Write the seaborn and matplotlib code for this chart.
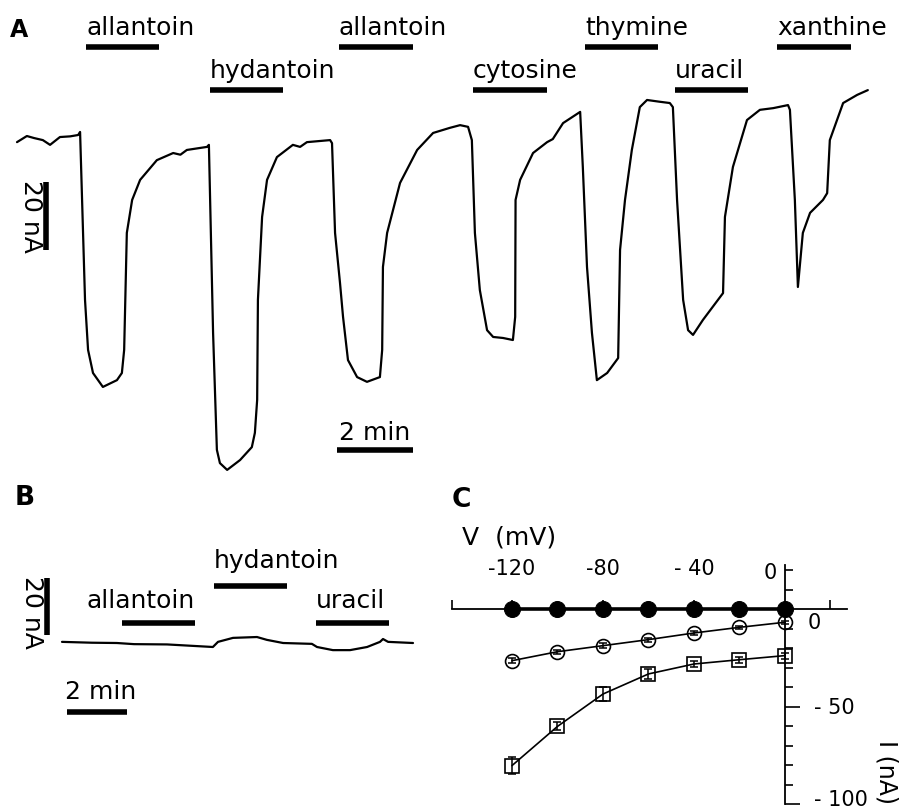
import numpy as np
import pandas as pd
import matplotlib
matplotlib.use("Agg")
import matplotlib.pyplot as plt
import matplotlib.transforms as mtransforms
from matplotlib.ticker import FixedLocator
import seaborn as sns

sns.set_theme(style="white")
plt.rcParams['font.family'] = ['DejaVu Sans']
plt.rcParams['text.color'] = 'black'
plt.rcParams['axes.labelcolor'] = 'black'
plt.rcParams['xtick.color'] = 'black'
plt.rcParams['ytick.color'] = 'black'

# ---------------------------------------------------------------- data
# Panel A: oocyte current trace (time in min, current in nA)
a_time = [0.00, 0.26, 0.45, 0.68, 0.87, 1.13, 1.40, 1.61, 1.66,
          1.79, 1.87, 2.00, 2.26, 2.63, 2.76, 2.82, 2.89, 3.03, 3.24, 3.68, 4.11, 4.30, 4.47, 5.00, 5.05,
          5.16, 5.26, 5.34, 5.53, 5.87, 6.18, 6.26, 6.32, 6.34, 6.45, 6.58, 6.84, 7.26, 7.45, 7.63, 8.24, 8.29,
          8.37, 8.50, 8.58, 8.71, 8.95, 9.21, 9.55, 9.61, 9.63, 9.74, 10.08, 10.53, 10.95, 11.39, 11.66, 11.87,
          11.97, 12.05, 12.18, 12.37, 12.53, 12.79, 13.05, 13.11, 13.12, 13.24, 13.58, 13.95, 14.10, 14.37, 14.82,
          14.89, 15.00, 15.13, 15.26, 15.53, 15.82, 15.87, 16.00, 16.18, 16.39, 16.58, 16.90, 17.18, 17.26,
          17.37, 17.53, 17.66, 17.79, 18.05, 18.58, 18.63, 18.84, 19.21, 19.55, 19.90, 20.29, 20.34,
          20.47, 20.55, 20.68, 20.87, 21.21, 21.32, 21.39, 21.74, 22.11, 22.39]
a_current = [-2.1, -0.3, -0.9, -1.5, -2.9, -0.6, -0.4, 0.0, 0.9,
             -48.5, -63.2, -70.0, -74.1, -72.1, -70.0, -63.2, -28.8, -19.1, -13.2, -7.4, -5.3, -5.8, -4.4, -3.5, -2.9,
             -58.2, -92.6, -96.5, -98.5, -95.6, -91.8, -87.6, -77.9, -48.5, -24.1, -13.2, -6.5, -2.9, -3.5, -2.1, -1.5, -2.4,
             -28.8, -43.5, -53.5, -66.2, -71.2, -72.6, -71.2, -63.2, -38.8, -28.8, -14.1, -4.4, 0.6, 2.1, 2.9, 2.4,
             -1.5, -28.8, -45.6, -57.4, -59.4, -59.7, -60.3, -53.5, -19.1, -13.2, -5.3, -2.1, -1.2, 3.5, 6.8,
             -9.4, -38.8, -58.2, -72.1, -70.0, -65.6, -33.8, -19.1, -4.4, 8.2, 10.3, 9.8, 9.4, 8.2,
             -19.1, -48.5, -57.4, -58.8, -54.4, -46.5, -24.1, -9.4, 4.4, 7.4, 7.9, 8.8, 7.4,
             -19.1, -44.7, -28.8, -22.9, -19.1, -17.1, -1.5, 9.4, 11.8, 13.2]
a_solutes = ["allantoin", "hydantoin", "allantoin", "cytosine", "thymine", "uracil", "xanthine"]
a_on = [1.82, 5.08, 8.47, 12.00, 14.95, 17.32, 20.00]
a_off = [3.74, 7.00, 10.42, 13.95, 16.87, 19.24, 21.95]

# Panel B: control trace
b_time = [0.00, 1.00, 1.83, 2.40, 3.50, 5.03, 5.20, 5.70, 6.50, 6.83, 7.37, 8.33, 8.50,
          9.03, 9.60, 10.17, 10.60, 10.70, 10.87, 11.70]
b_current = [1.1, 0.8, 0.7, 0.3, 0.2, -0.7, 1.1, 2.5, 2.8, 1.8, 0.7, 0.4, -0.7,
             -1.8, -1.8, -0.7, 1.1, 2.1, 1.1, 0.7]
b_solutes = ["allantoin", "hydantoin", "uracil"]
b_on = [2.00, 5.07, 8.47]
b_off = [4.43, 7.50, 10.90]

# scale bars
time_bar = 2      # min
current_bar = 20  # nA

# Panel C: I-V relationship
c_voltage = [-120, -100, -80, -60, -40, -20, 0]
c_control = [0.0, 0.0, 0.0, 0.0, 0.0, 0.0, 0.0]
c_circle = [-26.5, -21.9, -18.8, -15.7, -12.3, -9.4, -6.8]
c_circle_err = [1.2, 1.0, 1.2, 1.0, 1.0, 0.8, 0.8]
c_square = [-80.3, -60.2, -43.6, -33.3, -28.2, -26.0, -23.9]
c_square_err = [4.3, 2.0, 3.4, 2.5, 1.5, 1.5, 1.5]
c_xtick_values = [-120, -80, -40]
c_xtick_labels = ["-120", "-80", "- 40"]
c_ytick_values = [-100, -50]
c_ytick_labels = ["- 100", "- 50"]

# ---------------------------------------------------------------- layout
W, H = 904, 809
fig = plt.figure(figsize=(W / 100, H / 100), dpi=100)
fig.patch.set_facecolor("white")


def fx(xp):
    return xp / W


def fy(yp):
    return 1 - yp / H


def add_panel(box, x0, sx, y0, sy):
    l, t, r, b = box
    ax = fig.add_axes([l / W, 1 - b / H, (r - l) / W, (b - t) / H])
    ax.set_xlim((l - x0) / sx, (r - x0) / sx)
    ax.set_ylim((y0 - b) / sy, (y0 - t) / sy)
    ax.patch.set_alpha(0)
    return ax


FS = 18
TRACE_LW = 1.6
BAR_LW = 4

# ---------------- Panel A
A_X0, A_SX, A_Y0, A_SY = 17, 38, 135, 3.4
axA = add_panel((0, 0, 904, 480), A_X0, A_SX, A_Y0, A_SY)
axA.set_axis_off()
dfA = pd.DataFrame({"time": a_time, "current": a_current})
sns.lineplot(data=dfA, x="time", y="current", sort=False, estimator=None,
             color="black", lw=TRACE_LW, ax=axA)

a_ypx = lambda yp: (A_Y0 - yp) / A_SY
a_xpx = lambda xp: (xp - A_X0) / A_SX
bar_levels = [a_ypx(47), a_ypx(90)]
text_levels = [a_ypx(35), a_ypx(78)]
for i, (name, on, off) in enumerate(zip(a_solutes, a_on, a_off)):
    lv = i % 2
    axA.hlines(bar_levels[lv], on, off, color="black", lw=BAR_LW)
    axA.text(on, text_levels[lv], name, fontsize=FS, ha="left", va="baseline")

# scale bars A
t0 = a_xpx(337)
axA.hlines(a_ypx(450), t0, t0 + time_bar, color="black", lw=BAR_LW)
axA.text(t0 + time_bar / 2, a_ypx(440), "2 min", fontsize=FS, ha="center", va="baseline")
xb = a_xpx(46)
ib = a_ypx(250)
axA.vlines(xb, ib, ib + current_bar, color="black", lw=BAR_LW)
axA.text(a_xpx(31), ib + current_bar / 2, "20 nA", fontsize=FS, rotation=-90,
         ha="center", va="center")

# ---------------- Panel B
B_X0, B_SX, B_Y0, B_SY = 62, 30, 645, 2.85
axB = add_panel((0, 480, 440, 809), B_X0, B_SX, B_Y0, B_SY)
axB.set_axis_off()
dfB = pd.DataFrame({"time": b_time, "current": b_current})
sns.lineplot(data=dfB, x="time", y="current", sort=False, estimator=None,
             color="black", lw=TRACE_LW, ax=axB)
b_ypx = lambda yp: (B_Y0 - yp) / B_SY
b_xpx = lambda xp: (xp - B_X0) / B_SX
b_bar_lv = [b_ypx(623), b_ypx(586), b_ypx(623)]
b_txt_lv = [b_ypx(608), b_ypx(568), b_ypx(608)]
b_anchor = ["right", "left", "left"]
for name, on, off, bl, tl, ha in zip(b_solutes, b_on, b_off, b_bar_lv, b_txt_lv, b_anchor):
    axB.hlines(bl, on, off, color="black", lw=BAR_LW)
    axB.text(off if ha == "right" else on, tl, name, fontsize=FS, ha=ha, va="baseline")
t0 = b_xpx(67)
axB.hlines(b_ypx(712), t0, t0 + time_bar, color="black", lw=BAR_LW)
axB.text(b_xpx(65), b_ypx(699), "2 min", fontsize=FS, ha="left", va="baseline")
xb = b_xpx(47)
ib = b_ypx(635)
axB.vlines(xb, ib, ib + current_bar, color="black", lw=BAR_LW)
axB.text(b_xpx(32), b_ypx(612), "20 nA", fontsize=FS, rotation=-90,
         ha="center", va="center")

# ---------------- Panel C
C_X0, C_SX, C_Y0, C_SY = 785, 2.275, 609, 1.95
axC = add_panel((440, 480, 904, 809), C_X0, C_SX, C_Y0, C_SY)
c_xpx = lambda xp: (xp - C_X0) / C_SX
c_ypx = lambda yp: (C_Y0 - yp) / C_SY

dfC = pd.DataFrame({"V": c_voltage, "ctrl": c_control, "circ": c_circle, "sq": c_square})
axC.errorbar(c_voltage, c_square, yerr=c_square_err, fmt="none", ecolor="black",
             elinewidth=1.1, capsize=3, capthick=1.1, zorder=2)
axC.errorbar(c_voltage, c_circle, yerr=c_circle_err, fmt="none", ecolor="black",
             elinewidth=1.1, capsize=3, capthick=1.1, zorder=2)
sns.lineplot(data=dfC, x="V", y="sq", color="black", lw=1.2, marker="s", markersize=9.5,
             markerfacecolor="none", markeredgecolor="black", markeredgewidth=1.2,
             ax=axC, zorder=3)
sns.lineplot(data=dfC, x="V", y="circ", color="black", lw=1.2, marker="o", markersize=10,
             markerfacecolor="none", markeredgecolor="black", markeredgewidth=1.2,
             ax=axC, zorder=3)
sns.lineplot(data=dfC, x="V", y="ctrl", color="black", lw=2.6, marker="o", markersize=11.5,
             markerfacecolor="black", markeredgecolor="black", ax=axC, zorder=4)

for s in ["left", "bottom"]:
    axC.spines[s].set_visible(False)
for s in ["top", "right"]:
    axC.spines[s].set_visible(True)
    axC.spines[s].set_color("black")
    axC.spines[s].set_linewidth(1.3)
    axC.spines[s].set_position(("data", 0))
axC.spines["top"].set_bounds(c_xpx(452), c_xpx(847))
axC.spines["right"].set_bounds(-100, c_ypx(565))
axC.xaxis.tick_top()
axC.set_xticks([c_xpx(452)] + c_xtick_values + [20])
axC.set_xticklabels([""] + c_xtick_labels + [""])
axC.tick_params(axis="x", which="major", direction="out", length=6.5, width=1.2,
                pad=15, labelsize=15, colors="black", top=True, bottom=False)
axC.yaxis.tick_right()
axC.set_yticks(c_ytick_values)
axC.set_yticklabels(c_ytick_labels)
axC.yaxis.set_minor_locator(FixedLocator([-90, -80, -70, -60, -40, -30, -20, -10, 10, 20]))
axC.tick_params(axis="y", which="major", direction="out", length=10.8, width=1.2,
                pad=10, labelsize=15, colors="black", right=True, left=False)
axC.tick_params(axis="y", which="minor", direction="out", length=5.8, width=1.2,
                right=True, left=False)
axC.set_xlabel("")
axC.set_ylabel("")
axC.grid(False)
axC.set_xlim(c_xpx(440), c_xpx(904))
axC.set_ylim(c_ypx(809), c_ypx(480))

# nudge the lowest y tick label so it stays inside the figure
for lab in axC.get_yticklabels():
    if lab.get_text() == "- 100":
        lab.set_transform(lab.get_transform() +
                          mtransforms.ScaledTranslation(0, 6 / 100, fig.dpi_scale_trans))

fig.text(fx(770), fy(573), "0", fontsize=15, ha="center", va="center")
fig.text(fx(814), fy(623), "0", fontsize=15, ha="center", va="center")
fig.text(fx(462), fy(545), "V  (mV)", fontsize=FS, ha="left", va="baseline")
fig.text(fx(887), fy(740), "I (nA)", fontsize=17, rotation=-90, ha="center", va="top")

# panel letters
fig.text(fx(10), fy(37), "A", fontsize=17, fontweight="bold", ha="left", va="baseline")
fig.text(fx(15), fy(505), "B", fontsize=19, fontweight="bold", ha="left", va="baseline")
fig.text(fx(452), fy(507), "C", fontsize=19, fontweight="bold", ha="left", va="baseline")

fig.savefig("out.png", dpi=100, facecolor="white")
